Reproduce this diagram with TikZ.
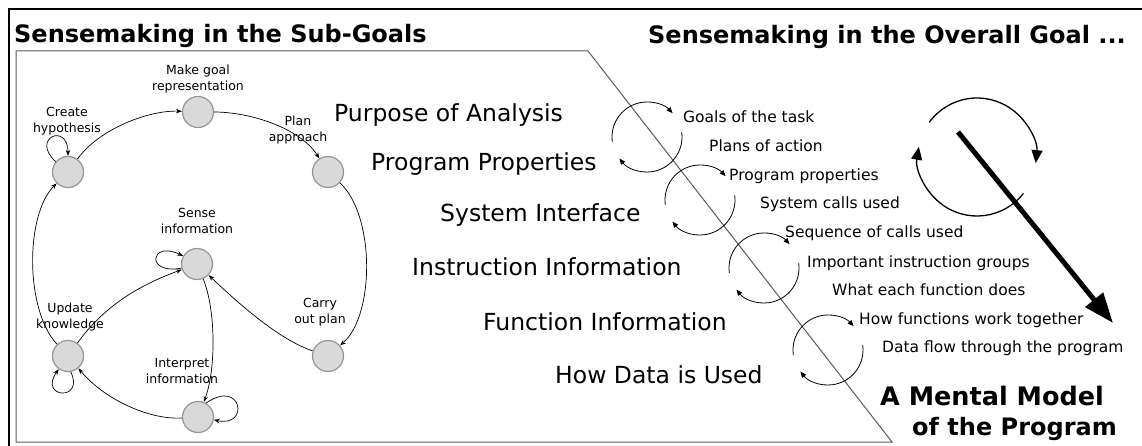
\documentclass[tikz,border=0pt]{standalone}
\usepackage{fontspec}
\setmainfont{DejaVu Sans}
\usetikzlibrary{positioning, arrows.meta}
\definecolor{statefill}{RGB}{217,217,217}
\definecolor{stateline}{RGB}{150,150,150}
\definecolor{panelline}{RGB}{90,90,90}

\begin{document}
\begin{tikzpicture}[x=1pt, y=-1pt,
    state/.style={circle, draw=stateline, fill=statefill, line width=1.2pt, minimum size=31pt, inner sep=0pt},
    lbl/.style={font=\fontsize{12.5}{16}\selectfont, align=center, inner sep=0pt},
    edge/.style={-{Stealth[length=6pt, width=4.5pt]}, line width=0.7pt},
    spin/.style={-{Triangle[length=6pt, width=5pt]}, line width=0.8pt},
    bigspin/.style={-{Triangle[length=13pt, width=11pt]}, line width=1.3pt},
    topic/.style={font=\fontsize{23.5}{28}\selectfont, anchor=base west, inner sep=0pt},
    detail/.style={font=\fontsize{15.5}{18}\selectfont, anchor=base west, inner sep=0pt},
    heading/.style={font=\fontsize{24}{30}\selectfont\bfseries, anchor=base west, inner sep=0pt},
]
    \useasboundingbox (0,0) rectangle (1142,446);
    % frame and panel
    \draw[line width=2.5pt] (9,448) -- (9,9) -- (1144,9);
    \draw[panelline, line width=1pt] (16,51) -- (588,51) -- (892,442) -- (16,442) -- cycle;
    \node[heading] (subhead) at (14,43) {Sensemaking in the Sub-Goals};
    \node[heading] (allhead) at (648,44) {Sensemaking in the Overall Goal ...};

    % sub-goal states
    \node[state] (goal) at (198,112) {};
    \node[state] (hyp) at (68,172) {};
    \node[state] (plan) at (328,172) {};
    \node[state] (sense) at (197,264) {};
    \node[state] (upd) at (68,356) {};
    \node[state] (carry) at (328,356) {};
    \node[state] (interp) at (198,417) {};
    \node[lbl] at (198,79) {Make goal\\representation};
    \node[lbl] at (67,121) {Create\\hypothesis};
    \node[lbl] at (298,130) {Plan\\approach};
    \node[lbl] at (197,221) {Sense\\information};
    \node[lbl] at (70,317) {Update\\knowledge};
    \node[lbl] at (320,312) {Carry\\out plan};
    \node[lbl] at (182,371) {Interpret\\information};

    \draw[edge] (hyp) .. controls (100,128) and (150,110) .. (goal);
    \draw[edge] (goal) .. controls (250,112) and (300,128) .. (plan);
    \draw[edge] (plan) .. controls (375,215) and (375,315) .. (carry);
    \draw[edge] (carry) .. controls (280,340) and (240,305) .. (sense);
    \draw[edge] (sense) .. controls (216,310) and (216,370) .. (interp);
    \draw[edge] (interp) .. controls (150,420) and (105,400) .. (upd);
    \draw[edge] (upd) .. controls (105,305) and (140,285) .. (sense);
    \draw[edge] (upd) .. controls (25,310) and (25,215) .. (hyp);
    \draw[edge] (hyp.140) .. controls (30,138) and (68,122) .. (hyp.90);
    \draw[edge] (sense.195) .. controls (145,275) and (150,240) .. (sense.150);
    \draw[edge] (upd.280) .. controls (85,402) and (38,398) .. (upd.235);
    \draw[edge] (interp.60) .. controls (242,378) and (250,428) .. (interp.350);

    % sensemaking topics
    \node[topic] (purpose) at (334,122) {Purpose of Analysis};
    \node[topic] (props) at (371,171) {Program Properties};
    \node[topic] (sysif) at (440,222) {System Interface};
    \node[topic] (instr) at (412,275) {Instruction Information};
    \node[topic] (func) at (483,330) {Function Information};
    \node[topic] (data) at (555,383) {How Data is Used};

    \foreach \cx/\cy in {647/137, 700/200, 764/268, 828/350} {
        \draw[spin] (\cx,\cy) ++(172:35) arc[start angle=172, end angle=317, radius=35];
        \draw[spin] (\cx,\cy) ++(352:35) arc[start angle=352, end angle=502, radius=35];
    }

    \node[detail] (d1) at (683,123) {Goals of the task};
    \node[detail] (d2) at (709,152) {Plans of action};
    \node[detail] (d3) at (729,181) {Program properties};
    \node[detail] (d4) at (760,209) {System calls used};
    \node[detail] (d5) at (785,238) {Sequence of calls used};
    \node[detail] (d6) at (807,267) {Important instruction groups};
    \node[detail] (d7) at (832,295) {What each function does};
    \node[detail] (d8) at (859,324) {How functions work together};
    \node[detail] (d9) at (882,352) {Data flow through the program};

    % overall goal
    \draw[bigspin] (977,157) ++(216:59) arc[start angle=216, end angle=366, radius=59];
    \draw[bigspin] (977,157) ++(38:59) arc[start angle=38, end angle=190, radius=59];
    \coordinate (from) at (958,132);
    \coordinate (to) at (1113,323);
    \draw[-{Triangle[length=30pt, width=22pt]}, line width=5pt] (from) -- (to);
    \node[heading, font=\fontsize{25.5}{30}\selectfont\bfseries] (model) at (880,405) {A Mental Model};
    \node[heading] (prog) at (912,435) {of the Program};
\end{tikzpicture}
\end{document}
